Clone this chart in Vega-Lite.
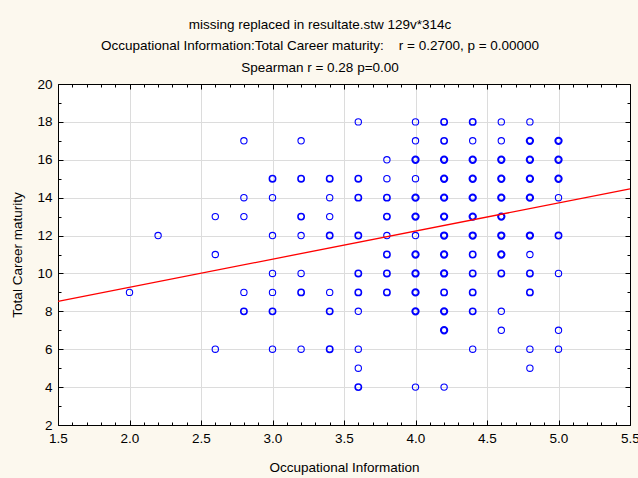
{
  "$schema": "https://vega.github.io/schema/vega-lite/v6.json",
  "width": 572,
  "height": 341,
  "autosize": {"type": "none"},
  "padding": {"left": 58, "top": 84, "right": 8, "bottom": 53},
  "background": "#fcf8ee",
  "config": {"view": {"fill": "white", "stroke": null}, "font": "Liberation Sans"},
  "title": {
    "text": ["missing replaced in resultate.stw 129v*314c", "Occupational Information:Total Career maturity:\u00a0\u00a0\u00a0\u00a0r = 0.2700, p = 0.00000\u00a0\u00a0\u00a0\u00a0", "Spearman r = 0.28 p=0.00"],
    "fontSize": 13.5,
    "fontWeight": "normal",
    "color": "black",
    "lineHeight": 21.5,
    "anchor": "middle",
    "dx": -24,
    "offset": 3
  },
  "layer": [
    {
      "data": {"values": [
        {"x":2.0,"y":9,"n":1},
        {"x":2.2,"y":12,"n":1},
        {"x":2.6,"y":13,"n":1},{"x":2.6,"y":11,"n":1},{"x":2.6,"y":6,"n":1},
        {"x":2.8,"y":17,"n":1},{"x":2.8,"y":14,"n":1},{"x":2.8,"y":13,"n":1},{"x":2.8,"y":9,"n":1},{"x":2.8,"y":8,"n":2},
        {"x":3.0,"y":15,"n":2},{"x":3.0,"y":14,"n":1},{"x":3.0,"y":12,"n":1},{"x":3.0,"y":10,"n":1},{"x":3.0,"y":9,"n":1},{"x":3.0,"y":8,"n":2},{"x":3.0,"y":6,"n":1},
        {"x":3.2,"y":17,"n":1},{"x":3.2,"y":15,"n":2},{"x":3.2,"y":13,"n":2},{"x":3.2,"y":12,"n":1},{"x":3.2,"y":10,"n":1},{"x":3.2,"y":9,"n":2},{"x":3.2,"y":6,"n":1},
        {"x":3.4,"y":15,"n":2},{"x":3.4,"y":14,"n":1},{"x":3.4,"y":13,"n":1},{"x":3.4,"y":12,"n":2},{"x":3.4,"y":9,"n":1},{"x":3.4,"y":8,"n":2},{"x":3.4,"y":6,"n":2},
        {"x":3.6,"y":18,"n":1},{"x":3.6,"y":15,"n":2},{"x":3.6,"y":14,"n":2},{"x":3.6,"y":12,"n":2},{"x":3.6,"y":10,"n":2},{"x":3.6,"y":9,"n":2},{"x":3.6,"y":8,"n":1},{"x":3.6,"y":6,"n":1},{"x":3.6,"y":5,"n":1},{"x":3.6,"y":4,"n":2},
        {"x":3.8,"y":16,"n":1},{"x":3.8,"y":15,"n":1},{"x":3.8,"y":14,"n":2},{"x":3.8,"y":13,"n":2},{"x":3.8,"y":12,"n":1},{"x":3.8,"y":11,"n":2},{"x":3.8,"y":10,"n":2},{"x":3.8,"y":9,"n":2},
        {"x":4.0,"y":18,"n":1},{"x":4.0,"y":17,"n":1},{"x":4.0,"y":16,"n":3},{"x":4.0,"y":15,"n":1},{"x":4.0,"y":14,"n":3},{"x":4.0,"y":13,"n":3},{"x":4.0,"y":12,"n":1},{"x":4.0,"y":11,"n":3},{"x":4.0,"y":10,"n":3},{"x":4.0,"y":9,"n":3},{"x":4.0,"y":8,"n":3},{"x":4.0,"y":4,"n":1},
        {"x":4.2,"y":18,"n":2},{"x":4.2,"y":17,"n":2},{"x":4.2,"y":16,"n":3},{"x":4.2,"y":15,"n":3},{"x":4.2,"y":14,"n":3},{"x":4.2,"y":13,"n":3},{"x":4.2,"y":12,"n":3},{"x":4.2,"y":11,"n":3},{"x":4.2,"y":10,"n":3},{"x":4.2,"y":9,"n":2},{"x":4.2,"y":8,"n":3},{"x":4.2,"y":7,"n":3},{"x":4.2,"y":4,"n":1},
        {"x":4.4,"y":18,"n":2},{"x":4.4,"y":17,"n":1},{"x":4.4,"y":16,"n":3},{"x":4.4,"y":15,"n":3},{"x":4.4,"y":14,"n":3},{"x":4.4,"y":13,"n":3},{"x":4.4,"y":12,"n":3},{"x":4.4,"y":11,"n":2},{"x":4.4,"y":10,"n":2},{"x":4.4,"y":9,"n":2},{"x":4.4,"y":8,"n":2},{"x":4.4,"y":6,"n":1},
        {"x":4.6,"y":18,"n":1},{"x":4.6,"y":17,"n":1},{"x":4.6,"y":16,"n":3},{"x":4.6,"y":15,"n":3},{"x":4.6,"y":14,"n":3},{"x":4.6,"y":13,"n":3},{"x":4.6,"y":12,"n":3},{"x":4.6,"y":11,"n":3},{"x":4.6,"y":10,"n":2},{"x":4.6,"y":8,"n":1},{"x":4.6,"y":7,"n":1},
        {"x":4.8,"y":18,"n":1},{"x":4.8,"y":17,"n":3},{"x":4.8,"y":16,"n":3},{"x":4.8,"y":15,"n":3},{"x":4.8,"y":14,"n":3},{"x":4.8,"y":12,"n":3},{"x":4.8,"y":11,"n":1},{"x":4.8,"y":10,"n":2},{"x":4.8,"y":9,"n":2},{"x":4.8,"y":6,"n":1},{"x":4.8,"y":5,"n":1},
        {"x":5.0,"y":17,"n":3},{"x":5.0,"y":16,"n":3},{"x":5.0,"y":15,"n":3},{"x":5.0,"y":14,"n":1},{"x":5.0,"y":12,"n":2},{"x":5.0,"y":10,"n":1},{"x":5.0,"y":7,"n":1},{"x":5.0,"y":6,"n":1}
      ]},
      "mark": {"type": "point", "shape": "circle", "filled": false, "color": "#0000ff", "size": 40, "opacity": 1},
      "encoding": {
        "x": {
          "field": "x", "type": "quantitative",
          "scale": {"domain": [1.5, 5.5], "nice": false, "zero": false},
          "axis": {
            "orient": "bottom",
            "values": [1.5,1.6,1.7,1.8,1.9,2,2.1,2.2,2.3,2.4,2.5,2.6,2.7,2.8,2.9,3,3.1,3.2,3.3,3.4,3.5,3.6,3.7,3.8,3.9,4,4.1,4.2,4.3,4.4,4.5,4.6,4.7,4.8,4.9,5,5.1,5.2,5.3,5.4,5.5],
            "title": "Occupational Information",
            "titleFontSize": 13.5, "titleFontWeight": "normal", "titleColor": "black", "titlePadding": 14,
            "labelExpr": "abs(datum.value*2 - round(datum.value*2)) < 0.01 ? format(datum.value, '.1f') : ''",
            "labelFontSize": 13.5, "labelColor": "black", "labelPadding": 11, "labelOverlap": false, "labelFlush": false,
            "tickSize": {"condition": {"test": "abs(datum.value*2 - round(datum.value*2)) < 0.01", "value": -5}, "value": -3},
            "tickColor": "black", "domainColor": "black",
            "grid": true, "gridColor": "#dcdcdc",
            "gridOpacity": {"condition": {"test": "abs(datum.value*2 - round(datum.value*2)) < 0.01", "value": 1}, "value": 0}
          }
        },
        "y": {
          "field": "y", "type": "quantitative",
          "scale": {"domain": [2, 20], "nice": false, "zero": false},
          "axis": {
            "orient": "left",
            "values": [2,3,4,5,6,7,8,9,10,11,12,13,14,15,16,17,18,19,20],
            "title": "Total Career maturity",
            "titleFontSize": 13.5, "titleFontWeight": "normal", "titleColor": "black", "titlePadding": 12,
            "labelExpr": "datum.value % 2 == 0 ? datum.label : ''",
            "labelFontSize": 13.5, "labelColor": "black", "labelPadding": 11, "labelOverlap": false, "labelFlush": false,
            "tickSize": {"condition": {"test": "datum.value % 2 == 0", "value": -5}, "value": -3},
            "tickColor": "black", "domainColor": "black",
            "grid": true, "gridColor": "#dcdcdc",
            "gridOpacity": {"condition": {"test": "datum.value % 2 == 0", "value": 1}, "value": 0}
          }
        },
        "strokeWidth": {"field": "n", "type": "quantitative", "scale": {"domain": [1, 3], "range": [1.1, 2]}, "legend": null}
      }
    },
    {
      "data": {"values": [{"x": 1.5, "y": 8.53}, {"x": 5.5, "y": 14.46}]},
      "mark": {"type": "line", "color": "#ff0000", "strokeWidth": 1.3},
      "encoding": {
        "x": {
          "field": "x", "type": "quantitative",
          "scale": {"domain": [1.5, 5.5], "nice": false, "zero": false},
          "axis": {
            "orient": "top",
            "values": [1.5,1.6,1.7,1.8,1.9,2,2.1,2.2,2.3,2.4,2.5,2.6,2.7,2.8,2.9,3,3.1,3.2,3.3,3.4,3.5,3.6,3.7,3.8,3.9,4,4.1,4.2,4.3,4.4,4.5,4.6,4.7,4.8,4.9,5,5.1,5.2,5.3,5.4,5.5],
            "title": null, "labels": false, "grid": false,
            "tickSize": {"condition": {"test": "abs(datum.value*2 - round(datum.value*2)) < 0.01", "value": -5}, "value": -3},
            "tickColor": "black", "domainColor": "black"
          }
        },
        "y": {
          "field": "y", "type": "quantitative",
          "scale": {"domain": [2, 20], "nice": false, "zero": false},
          "axis": {
            "orient": "right",
            "values": [2,3,4,5,6,7,8,9,10,11,12,13,14,15,16,17,18,19,20],
            "title": null, "labels": false, "grid": false,
            "tickSize": {"condition": {"test": "datum.value % 2 == 0", "value": -5}, "value": -3},
            "tickColor": "black", "domainColor": "black"
          }
        }
      }
    }
  ],
  "resolve": {"axis": {"x": "independent", "y": "independent"}}
}
